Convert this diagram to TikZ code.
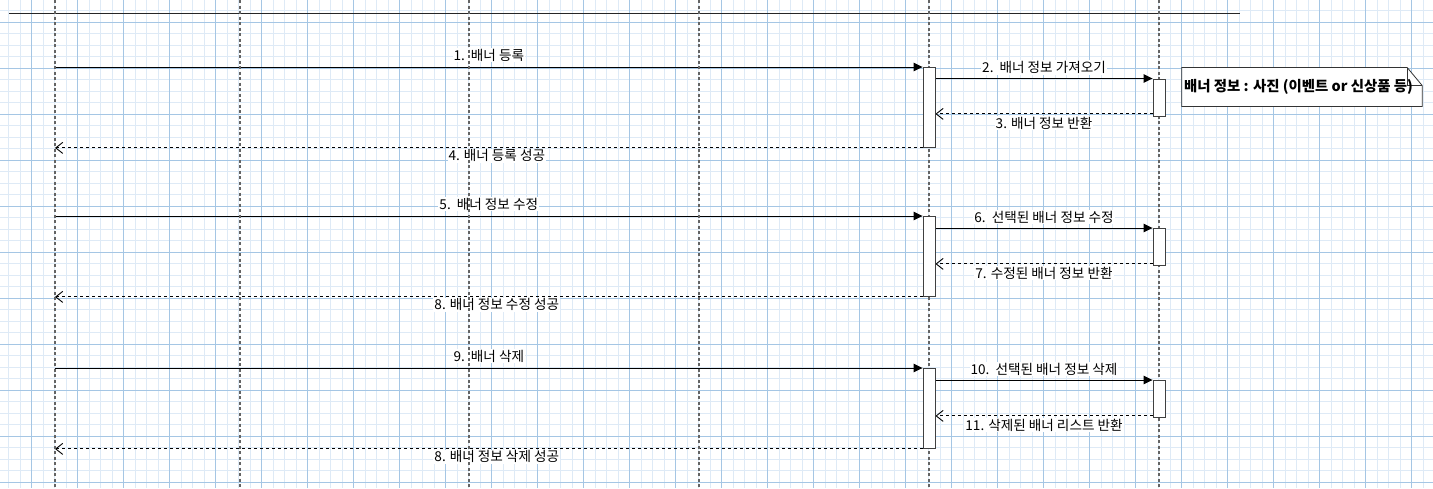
\documentclass[tikz,border=0pt]{standalone}
\usepackage{fontspec}
\setmainfont{Noto Sans CJK KR}
\usetikzlibrary{arrows.meta}
\definecolor{gridmajor}{RGB}{165,198,228}
\definecolor{gridminor}{RGB}{222,234,246}
\definecolor{lifegray}{RGB}{100,100,100}
\pgfdeclarelayer{bg}
\pgfdeclarelayer{msgs}
\pgfsetlayers{bg,msgs,main}

\tikzset{
  lifeline/.style={draw=lifegray, line width=1.5pt, dash pattern=on 3pt off 2.5pt},
  actbox/.style={draw=black!75, fill=white, minimum width=12pt, inner sep=0pt, line width=0.9pt, anchor=north},
  callmsg/.style={draw=black, line width=1pt, -{Triangle[length=9pt,width=8.5pt]}},
  retmsg/.style={draw=black, line width=0.9pt, dash pattern=on 3pt off 3pt, -{Straight Barb[length=7pt,width=11pt,line width=0.9pt]}},
  msglbl/.style={fill=white, inner sep=1pt, font=\fontsize{13.6}{15}\selectfont},
  notebox/.style={minimum width=240pt, minimum height=38.5pt, inner sep=0pt},
}

\begin{document}
\begin{tikzpicture}[x=1pt,y=-1pt]
  \useasboundingbox (0,0) rectangle (1433,488);
  \coordinate (bot) at (0,488);

  % grid
  \begin{pgfonlayer}{bg}
    \fill[white] (0,0) rectangle (1433,488);
    \foreach \k in {0,...,124} \draw[gridminor, line width=0.7pt] ({8.6+11.5*\k},0) -- ++(0,488);
    \foreach \k in {0,...,42} \draw[gridminor, line width=0.7pt] (0,{10.8+11.5*\k}) -- ++(1433,0);
    \foreach \k in {0,...,30} \draw[gridmajor, line width=0.8pt] ({31.6+46*\k},0) -- ++(0,488);
    \foreach \k in {0,...,10} \draw[gridmajor, line width=0.8pt] (0,{22.3+46*\k}) -- ++(1433,0);
  \end{pgfonlayer}

  % header line
  \coordinate (hdl) at (9,13.5);
  \coordinate (hdr) at (1240,13.5);
  \draw[black!85, line width=1.2pt] (hdl) -- (hdr);

  % lifelines
  \foreach \n/\x in {1/55,2/240,3/469,4/699,5/929,6/1159} {
    \coordinate (ll\n) at (\x,0);
    \draw[lifeline] (ll\n) -- (ll\n |- bot);
  }

  % activation boxes
  \node[actbox, minimum height=80pt] (srv1) at (929,67) {};
  \node[actbox, minimum height=37.5pt] (db1) at (1159,78.5) {};
  \node[actbox, minimum height=80pt] (srv2) at (929,216) {};
  \node[actbox, minimum height=37pt] (db2) at (1159,228) {};
  \node[actbox, minimum height=80pt] (srv3) at (929,368) {};
  \node[actbox, minimum height=37pt] (db3) at (1159,380) {};

  % note
  \node[notebox] (note) at (1302,87) {};
  \draw[black!80, fill=white, line width=0.8pt]
    (note.north west) -- ([xshift=-15pt]note.north east) -- ([yshift=-18pt]note.north east)
    -- (note.south east) -- (note.south west) -- cycle;
  \draw[black!80, line width=0.8pt]
    ([xshift=-15pt]note.north east) -- ([xshift=-15pt,yshift=-18pt]note.north east) -- ([yshift=-18pt]note.north east);
  \node[anchor=west, inner sep=0pt, font=\bfseries\fontsize{14.4}{16}\selectfont] (notetxt)
    at ([xshift=2pt]note.west) {배너 정보 : 사진 (이벤트 or 신상품 등)};

  \begin{pgfonlayer}{msgs}
    % register
    \draw[callmsg] (ll1 |- srv1.north) -- node[msglbl, midway, yshift=12pt] {1.\ \ 배너 등록} (srv1.north west);
    \draw[callmsg] (srv1.east |- db1.north) -- node[msglbl, midway, yshift=11pt] {2.\ \ 배너 정보 가져오기} (db1.north west);
    \coordinate (r3) at ([yshift=3pt]db1.south west);
    \draw[retmsg] (r3) -- node[msglbl, midway, yshift=-9pt] {3. 배너 정보 반환} (r3 -| srv1.east);
    \draw[retmsg] (srv1.south west) -- node[msglbl, midway, xshift=8pt, yshift=-8pt] {4. 배너 등록 성공} (srv1.south west -| ll1);

    % update
    \draw[callmsg] (ll1 |- srv2.north) -- node[msglbl, midway, yshift=12pt] {5.\ \ 배너 정보 수정} (srv2.north west);
    \draw[callmsg] (srv2.east |- db2.north) -- node[msglbl, midway, yshift=11pt] {6.\ \ 선택된 배너 정보 수정} (db2.north west);
    \coordinate (r7) at ([yshift=2pt]db2.south west);
    \draw[retmsg] (r7) -- node[msglbl, midway, yshift=-9pt] {7. 수정된 배너 정보 반환} (r7 -| srv2.east);
    \draw[retmsg] (srv2.south west) -- node[msglbl, midway, xshift=8pt, yshift=-8pt] {8. 배너 정보 수정 성공} (srv2.south west -| ll1);

    % delete
    \draw[callmsg] (ll1 |- srv3.north) -- node[msglbl, midway, yshift=12pt] {9.\ \ 배너 삭제} (srv3.north west);
    \draw[callmsg] (srv3.east |- db3.north) -- node[msglbl, midway, yshift=11pt] {10.\ \ 선택된 배너 정보 삭제} (db3.north west);
    \coordinate (r11) at ([yshift=2pt]db3.south west);
    \draw[retmsg] (r11) -- node[msglbl, midway, yshift=-9pt] {11. 삭제된 배너 리스트 반환} (r11 -| srv3.east);
    \draw[retmsg] (srv3.south west) -- node[msglbl, midway, xshift=8pt, yshift=-8pt] {8. 배너 정보 삭제 성공} (srv3.south west -| ll1);
  \end{pgfonlayer}
\end{tikzpicture}
\end{document}
